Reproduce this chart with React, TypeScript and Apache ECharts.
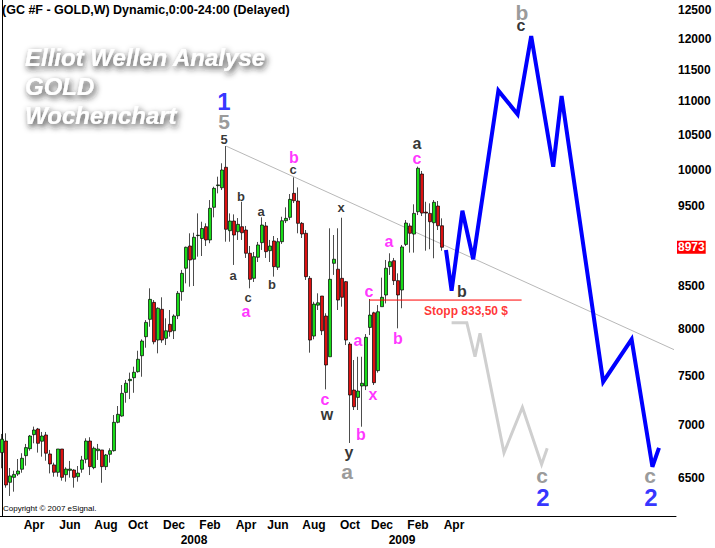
import React, { useEffect, useRef } from 'react';
import * as echarts from 'echarts';

// ---------- data ----------
const firstWeek = [2007, 2, 19]; // Monday of first weekly bar
const weekCount = 169; // bars incl. projection space
const firstLabelDate = '2007-03-01';
const lastLabelDate = '2009-04-30';
const monthNames = ['Jan', 'Feb', 'Mar', 'Apr', 'May', 'Jun', 'Jul', 'Aug', 'Sep', 'Oct', 'Nov', 'Dec'];

// weekly candles: [open, close, low, high]
const candles = [
  [6735, 6862, 6589, 6913], [6845, 6437, 6413, 6919], [6461, 6519, 6339, 6592], [6506, 6533, 6377, 6567],
  [6536, 6564, 6519, 6675], [6580, 6682, 6548, 6729], [6706, 6782, 6613, 6817], [6772, 6893, 6753, 6903],
  [6906, 6951, 6823, 6984], [6961, 6823, 6735, 6971], [6843, 6893, 6697, 6932], [6903, 6729, 6659, 6932],
  [6722, 6629, 6542, 6760], [6620, 6552, 6512, 6641], [6552, 6769, 6512, 6769], [6769, 6506, 6476, 6769],
  [6530, 6582, 6467, 6598], [6570, 6582, 6503, 6657], [6573, 6506, 6413, 6580], [6512, 6545, 6467, 6610],
  [6580, 6666, 6548, 6704], [6672, 6845, 6635, 6871], [6845, 6604, 6527, 6881], [6595, 6776, 6580, 6792],
  [6753, 6769, 6666, 6817], [6760, 6604, 6457, 6760], [6604, 6713, 6573, 6722], [6719, 6753, 6641, 6776],
  [6753, 7026, 6744, 7098], [7026, 7105, 7016, 7188], [7088, 7316, 7081, 7402], [7326, 7420, 7221, 7454],
  [7447, 7461, 7258, 7531], [7478, 7535, 7322, 7594], [7541, 7673, 7531, 7765], [7711, 7871, 7488, 7890],
  [7919, 8079, 7798, 8105], [8113, 8343, 8030, 8473], [8308, 7863, 7835, 8335], [7882, 8240, 7737, 8251],
  [8228, 7882, 7852, 8367], [7901, 7985, 7827, 8125], [8057, 7974, 7919, 8220], [7985, 8151, 7893, 8170],
  [8154, 8414, 8116, 8441], [8433, 8652, 8327, 8693], [8714, 8973, 8532, 8981], [8989, 8815, 8492, 9150],
  [8824, 9099, 8500, 9157], [9120, 9125, 8856, 9408], [9084, 9211, 8864, 9299], [9235, 9065, 8989, 9278],
  [9065, 9475, 9024, 9585], [9488, 9743, 9356, 9765], [9780, 9790, 9675, 9903], [9751, 9996, 9720, 10090],
  [10034, 9201, 9043, 10336], [9183, 9308, 9043, 9408], [9308, 9128, 8754, 9395], [9170, 9265, 9065, 9347],
  [9235, 9157, 9065, 9562], [9192, 8898, 8840, 9244], [8898, 8580, 8473, 8989], [8592, 8856, 8548, 8914],
  [8848, 9002, 8790, 9040], [9031, 9256, 8939, 9356], [9244, 8918, 8840, 9295], [8930, 8989, 8790, 9065],
  [9052, 8733, 8612, 9115], [8726, 9043, 8693, 9090], [9043, 9312, 9015, 9364], [9312, 9343, 9282, 9488],
  [9356, 9594, 9321, 9666], [9675, 9576, 9545, 9894], [9572, 9278, 9150, 9756], [9278, 9141, 9090, 9295],
  [9150, 8612, 8572, 9192], [8592, 7882, 7744, 8620], [7926, 8288, 7890, 8315], [8276, 8303, 8220, 8414],
  [8382, 7985, 7937, 8382], [8151, 7612, 7357, 8182], [7700, 8580, 7700, 9214], [8774, 8824, 8633, 9128],
  [8702, 8335, 8220, 9214], [8592, 8367, 8258, 9351], [8552, 7882, 7827, 8560], [7838, 7299, 6826, 7860],
  [7350, 7181, 7148, 7665], [7275, 7340, 7148, 7700], [7392, 7420, 6983, 7700], [7392, 7912, 7350, 7948],
  [8022, 8162, 7937, 8347], [8188, 7426, 7402, 8200], [7552, 8200, 7531, 8277], [8258, 8367, 8258, 8600],
  [8394, 8714, 8296, 8815], [8733, 8794, 8633, 8898], [8806, 8564, 8512, 8840], [8564, 8394, 8012, 8652],
  [8453, 8977, 8240, 9002], [9009, 9282, 8989, 9321], [9244, 9150, 8906, 9278], [9140, 9408, 8906, 9528],
  [9430, 10020, 9386, 10043], [9940, 9412, 9373, 9982], [9425, 9412, 8930, 9562], [9408, 9299, 8948, 9541],
  [9286, 9555, 8836, 9585], [9505, 9247, 9192, 9572], [9247, 8973, 8930, 9343],
];

const priceTicks = [6500, 7000, 7500, 8000, 8500, 9500, 10000, 10500, 11000, 11500, 12000, 12500];
const lastPrice = 8973;
const priceMin = 6164;
const priceMax = 12676;

// [week index, price]
const trendLine = [[56, 10336], [168, 7777]];
const stopLine = [[91.8, 8335], [129.9, 8335]];
const bluePath = [
  [111, 8939], [112.4, 8444], [115.1, 9443], [117.8, 8823], [124.1, 11168], [128.9, 10805],
  [132.3, 12054], [137.8, 10042], [139.9, 11085], [150.3, 7436], [157.4, 7890], [162.6, 6603], [164.25, 6780],
];
const grayPath = [
  [112.4, 8075], [116.2, 8075], [118.25, 7700], [119.5, 7956], [125.5, 6734], [130.1, 7175], [134.9, 6625], [136.3, 6775],
];

// wave labels: [week index, price, text]
const waveBlackSmall = [
  [55.5, 10438, '5'], [59.75, 9638, 'b'], [57.75, 8620, 'a'], [61.5, 8370, 'c'],
  [64.75, 9439, 'a'], [67.5, 8524, 'b'], [72.75, 9996, 'c'], [84.75, 9492, 'x'],
];
const waveBlackLarge = [
  [81.25, 7108, 'w'], [86.75, 6732, 'y'], [103.75, 10366, 'a'], [115, 8430, 'b'], [129.75, 12224, 'c'],
];
const waveMagenta = [
  [73, 10178, 'b'], [61, 8208, 'a'], [80.75, 7258, 'c'], [89, 7882, 'a'], [92.75, 7309, 'x'],
  [89.75, 6903, 'b'], [91.75, 8441, 'c'], [96.75, 9040, 'a'], [99, 7904, 'b'], [103.75, 10164, 'c'],
];
const waveGray = [
  [55.5, 10704, '5'], [86.25, 6564, 'a'], [130, 12465, 'b'], [135, 6519, 'c'], [162, 6519, 'c'],
];
const waveBlue = [
  [55.5, 10993, '1'], [135.25, 6329, '2'], [162.25, 6329, '2'],
];
const stopNote = [[116, 8208, 'Stopp 833,50 $']];

const chartTitle = '(GC #F - GOLD,W) Dynamic,0:00-24:00 (Delayed)';
const headline = ['Elliot Wellen Analyse', 'GOLD', 'Wochenchart'];
const copyright = 'Copyright \u00a9 2007 eSignal.';

// ---------- helpers ----------
const FONT = '"Liberation Sans", Arial, sans-serif';
const ln = Math.log;

function buildWeeks(): string[] {
  const out: string[] = [];
  const t0 = Date.UTC(firstWeek[0], firstWeek[1] - 1, firstWeek[2]);
  for (let i = 0; i < weekCount; i++) {
    out.push(new Date(t0 + i * 7 * 86400000).toISOString().slice(0, 10));
  }
  return out;
}

function parts(v: string) {
  const [y, m, d] = v.split('-').map(Number);
  return { y, m, d };
}

const toLine = (pts: number[][]) => pts.map((p) => [p[0], ln(p[1])]);

function labelSeries(items: any[][], color: string, size: number) {
  return {
    type: 'scatter',
    xAxisIndex: 2,
    yAxisIndex: 0,
    silent: true,
    symbolSize: 1,
    itemStyle: { color: 'rgba(0,0,0,0)' },
    data: items.map((it) => [it[0], ln(it[1] as number), it[2]]),
    label: {
      show: true,
      position: 'inside',
      formatter: (p: any) => p.value[2],
      color,
      fontSize: size,
      fontWeight: 'bold',
      fontFamily: FONT,
    },
    z: 5,
  };
}

export default function App() {
  const ref = useRef<HTMLDivElement>(null);

  useEffect(() => {
    if (!ref.current) return;
    const chart = echarts.init(ref.current, null, { renderer: 'svg' });
    const weeks = buildWeeks();

    const inRange = (v: string) => v >= firstLabelDate && v <= lastLabelDate;
    const monthInterval = (_i: number, v: string) => {
      const { m, d } = parts(v);
      return m % 2 === 0 && d >= 15 && d <= 21 && inRange(v);
    };
    const yearInterval = (_i: number, v: string) => {
      const { m, d } = parts(v);
      return m === 1 && d >= 15 && d <= 21 && inRange(v);
    };

    const axisText = { color: '#000', fontWeight: 'bold', fontSize: 12, fontFamily: FONT };

    chart.setOption({
      animation: false,
      backgroundColor: '#fff',
      title: {
        text: chartTitle,
        left: 2,
        top: 3,
        padding: 0,
        textStyle: { ...axisText, fontSize: 12.5 },
      },
      grid: { left: 0, right: 39, top: 0, bottom: 32, containLabel: false, outerBoundsMode: 'none' },
      xAxis: [
        {
          type: 'category',
          data: weeks,
          boundaryGap: true,
          axisLine: { show: true, lineStyle: { color: '#000', width: 1 } },
          axisTick: { show: false },
          splitLine: { show: false },
          axisLabel: {
            ...axisText,
            interval: monthInterval,
            margin: 3,
            formatter: (v: string) => monthNames[parts(v).m - 1],
          },
        },
        {
          type: 'category',
          data: weeks,
          position: 'bottom',
          offset: 15,
          boundaryGap: true,
          axisLine: { show: false },
          axisTick: { show: false },
          splitLine: { show: false },
          axisLabel: {
            ...axisText,
            interval: yearInterval,
            margin: 3,
            formatter: (v: string) => String(parts(v).y),
          },
        },
        { type: 'value', min: -0.5, max: weekCount - 0.5, show: false },
      ],
      yAxis: [
        {
          type: 'value',
          position: 'right',
          min: ln(priceMin),
          max: ln(priceMax),
          axisLine: { show: true, lineStyle: { color: '#000', width: 1 } },
          axisTick: { show: false },
          splitLine: { show: false },
          axisLabel: {
            ...axisText,
            margin: 2,
            customValues: priceTicks.map(ln),
            formatter: (v: number) => String(Math.round(Math.exp(v))),
          },
        },
        {
          type: 'value',
          position: 'right',
          min: ln(priceMin),
          max: ln(priceMax),
          axisLine: { show: false },
          axisTick: { show: false },
          splitLine: { show: false },
          axisLabel: {
            ...axisText,
            color: '#fff',
            backgroundColor: '#ff0000',
            padding: [1, 1, 0, 1],
            margin: 1,
            customValues: [ln(lastPrice)],
            formatter: (v: number) => String(Math.round(Math.exp(v))),
          },
        },
      ],
      graphic: [
        ...headline.map((t, k) => ({
          type: 'text',
          x: 25,
          y: 57 + k * 29,
          silent: true,
          style: {
            text: t,
            fill: '#fff',
            font: `italic bold 24px ${FONT}`,
            verticalAlign: 'middle',
            textShadowColor: 'rgba(30,30,30,0.9)',
            textShadowBlur: 6,
            textShadowOffsetX: 2,
            textShadowOffsetY: 3,
          },
        })),
        {
          type: 'text',
          x: 3,
          y: 508,
          silent: true,
          style: { text: copyright, fill: '#000', font: `8px ${FONT}`, verticalAlign: 'middle' },
        },
      ],
      series: [
        {
          type: 'candlestick',
          xAxisIndex: 0,
          yAxisIndex: 0,
          barWidth: 3,
          data: candles.map((c) => c.map(ln)),
          itemStyle: {
            color: '#18dc18',
            color0: '#dc1010',
            borderColor: '#000',
            borderColor0: '#000',
            borderColorDoji: '#000',
            borderWidth: 0.7,
          },
          z: 3,
        },
        {
          type: 'line',
          xAxisIndex: 2,
          yAxisIndex: 0,
          data: toLine(trendLine),
          symbol: 'none',
          silent: true,
          lineStyle: { color: '#b8b8b8', width: 1 },
          z: 2,
        },
        {
          type: 'line',
          xAxisIndex: 2,
          yAxisIndex: 0,
          data: toLine(stopLine),
          symbol: 'none',
          silent: true,
          lineStyle: { color: '#ff0000', width: 1 },
          z: 4,
        },
        {
          type: 'line',
          xAxisIndex: 2,
          yAxisIndex: 0,
          data: toLine(grayPath),
          symbol: 'none',
          silent: true,
          lineStyle: { color: '#cfcfcf', width: 3, join: 'miter' },
          z: 4,
        },
        {
          type: 'line',
          xAxisIndex: 2,
          yAxisIndex: 0,
          data: toLine(bluePath),
          symbol: 'none',
          silent: true,
          lineStyle: { color: '#0000ff', width: 4, join: 'miter' },
          z: 4,
        },
        labelSeries(waveBlackSmall, '#000', 13),
        labelSeries(waveBlackLarge, '#000', 16),
        labelSeries(waveMagenta, '#ff00ff', 16),
        labelSeries(waveGray, '#808080', 21),
        labelSeries(waveBlue, '#0000ff', 24),
        labelSeries(stopNote, '#ff0000', 12),
      ],
    } as any);

    return () => chart.dispose();
  }, []);

  return (
    <div
      ref={ref}
      style={{ position: 'fixed', left: 0, top: 0, width: 715, height: 548, background: '#fff' }}
    />
  );
}
